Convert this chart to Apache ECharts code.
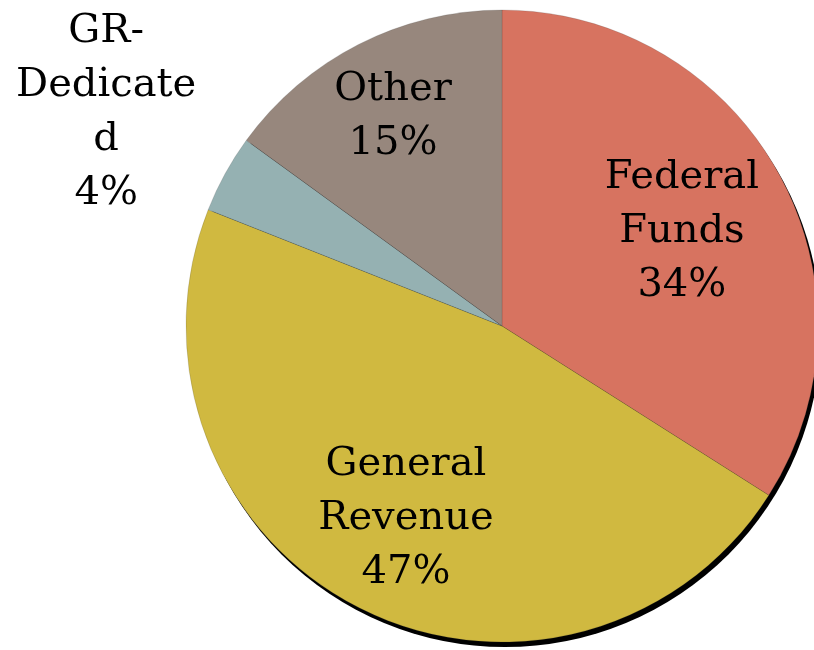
<!DOCTYPE html>
<html>
<head>
<meta charset="utf-8">
<script src="https://cdn.jsdelivr.net/npm/echarts@6/dist/echarts.min.js"></script>
<style>
html,body{margin:0;padding:0;background:#fff;}
#chart{width:814px;height:650px;}
</style>
</head>
<body>
<div id="chart"></div>
<script>
// Data
var categories = ["Federal\nFunds", "General\nRevenue", "GR-\nDedicate\nd", "Other"];
var values = [34, 47, 4, 15];
var colors = ["#D77360", "#D0B940", "#95B1B2", "#97877D"];

// Label placement: fraction of radius along each slice's bisector
var labelRadiusFrac = [0.64, 0.66, 1.42, 0.75];

var CX = 502, CY = 326, R = 316;
var total = values.reduce(function (a, b) { return a + b; }, 0);
var acc = 0;
var dataItems = values.map(function (v, i) {
  var mid = (acc + v / 2) / total * 2 * Math.PI;
  acc += v;
  var extra = (labelRadiusFrac[i] - 0.5) * R;
  return {
    name: categories[i],
    value: v,
    itemStyle: { color: colors[i] },
    label: { offset: [extra * Math.sin(mid), -extra * Math.cos(mid) + 4] }
  };
});

var chart = echarts.init(document.getElementById('chart'), null, { renderer: 'canvas' });
chart.setOption({
  animation: false,
  backgroundColor: '#ffffff',
  series: [
    {
      type: 'pie',
      silent: true,
      center: [CX + 3, CY + 5],
      radius: [0, R],
      label: { show: false },
      labelLine: { show: false },
      itemStyle: { color: '#000000', borderWidth: 0 },
      data: [{ value: 1 }],
      z: 1
    },
    {
      type: 'pie',
      center: [CX, CY],
      radius: [0, R],
      startAngle: 90,
      clockwise: true,
      z: 2,
      itemStyle: { borderColor: 'rgba(60,60,60,0.35)', borderWidth: 0.5 },
      label: {
        show: true,
        position: 'inside',
        fontFamily: 'DejaVu Serif',
        fontSize: 40,
        lineHeight: 54,
        color: '#000000',
        align: 'center',
        formatter: function (p) { return p.name + '\n' + p.value + '%'; }
      },
      labelLine: { show: false },
      emphasis: { disabled: true },
      data: dataItems
    }
  ]
});
</script>
</body>
</html>
